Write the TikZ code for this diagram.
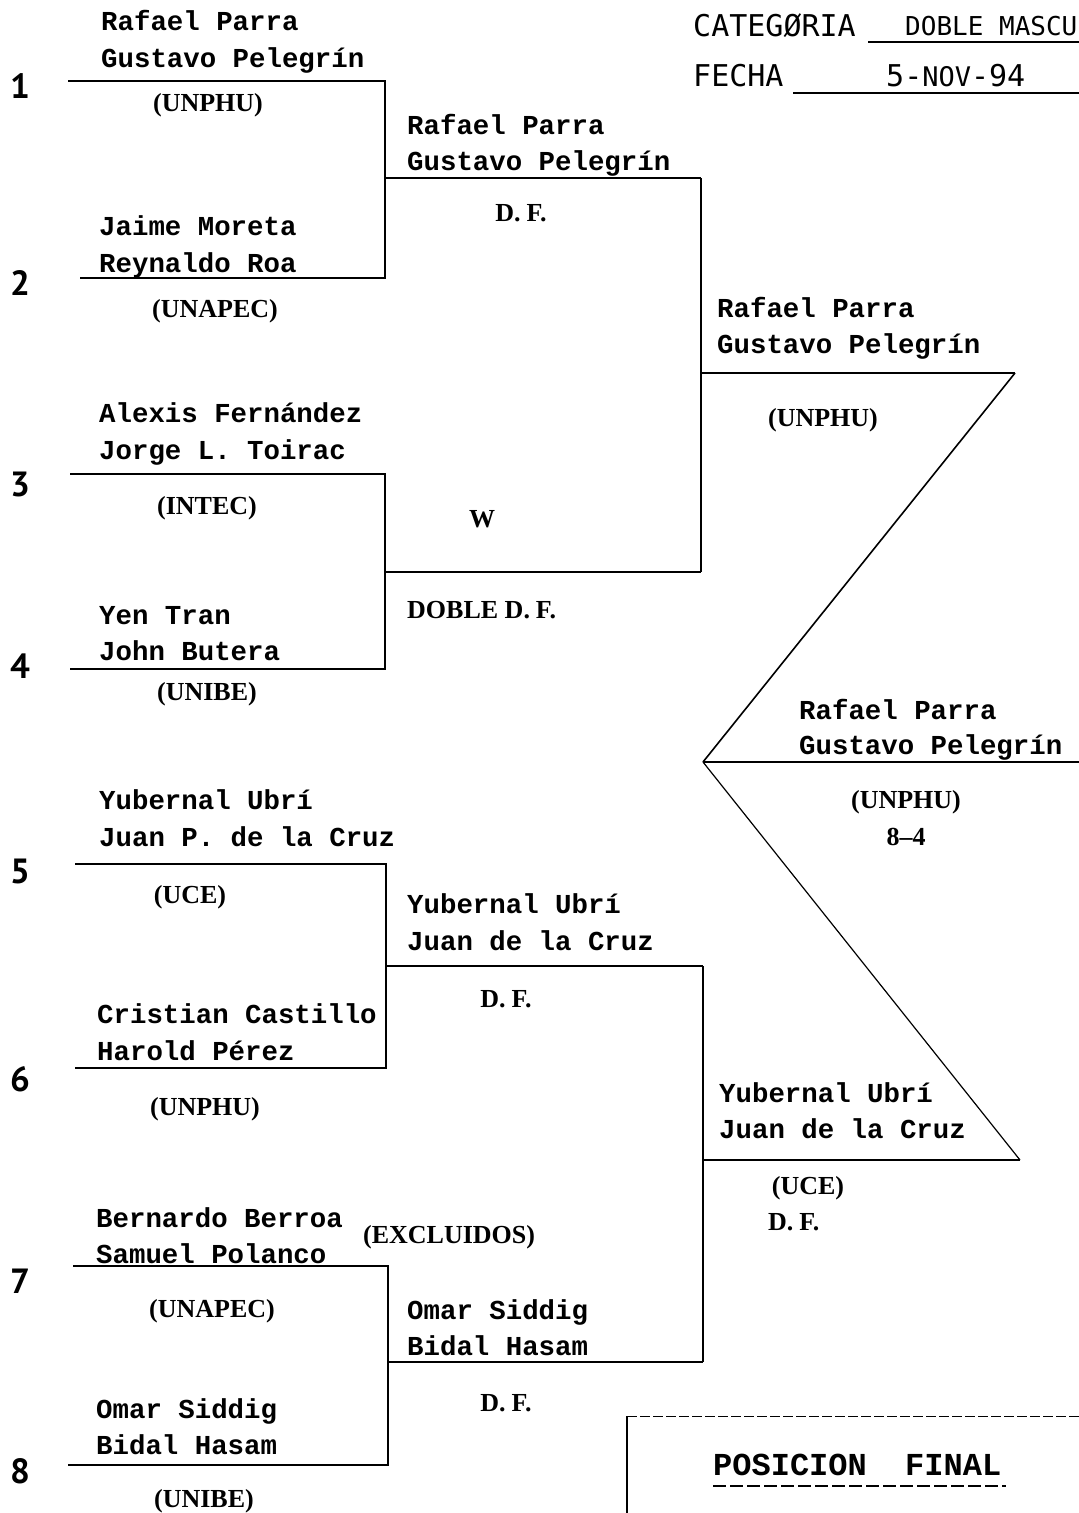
\documentclass[tikz,border=0pt]{standalone}
\usepackage{fontspec}
\setmainfont{Liberation Serif}
\newfontfamily\namefont{Liberation Mono Bold}
\newfontfamily\hdrfont{DejaVu Sans Mono}
\newfontfamily\numfont{PT Sans}
\begin{document}
\begin{tikzpicture}[x=1pt,y=-1pt,
  nm/.style={font=\namefont\fontsize{27.4}{27.4}\selectfont, anchor=base west, inner sep=0pt},
  uni/.style={font=\bfseries\fontsize{26}{26}\selectfont, anchor=base, inner sep=0pt},
  hdr/.style={font=\hdrfont\fontsize{30}{30}\selectfont, anchor=base west, inner sep=0pt},
  num/.style={font=\numfont\bfseries\fontsize{35}{35}\selectfont, anchor=base, inner sep=0pt},
  bk/.style={line width=1.6pt, line join=miter},
  thin/.style={line width=1.2pt}]
\useasboundingbox[fill=white] (0,0) rectangle (1079,1513);
% ---------- header
\node[hdr] (cat) at (693,36) {CATEGØRIA};
\node[hdr,font=\hdrfont\fontsize{26}{26}\selectfont] (catv) at (905,35) {DOBLE MASCU};
\node[hdr] (fec) at (693,86) {FECHA};
\node[hdr] (fecv) at (886,86) {5-{\fontsize{27}{27}\selectfont NOV}-94};
\coordinate (cu1) at (868,42); \coordinate (cu2) at (1079,42);
\coordinate (fu1) at (793,93); \coordinate (fu2) at (1079,93);
\draw[thin] (cu1) -- (cu2);
\draw[thin] (fu1) -- (fu2);
% ---------- seed numbers
\node[num] (k1) at (20,98) {1};
\node[num] (k2) at (20,295) {2};
\node[num] (k3) at (20,496) {3};
\node[num] (k4) at (20,678) {4};
\node[num] (k5) at (20,883) {5};
\node[num] (k6) at (20,1091) {6};
\node[num] (k7) at (20,1293) {7};
\node[num] (k8) at (20,1483) {8};
% ---------- coordinates of bracket lines
\coordinate (a1) at (68,81);   \coordinate (b1) at (385,81);
\coordinate (a2) at (80,278);  \coordinate (b2) at (385,278);
\coordinate (m12) at (385,178); \coordinate (e12) at (701,178);
\coordinate (a3) at (70,474);  \coordinate (b3) at (385,474);
\coordinate (a4) at (70,669);  \coordinate (b4) at (385,669);
\coordinate (m34) at (385,572); \coordinate (e34) at (701,572);
\coordinate (s1) at (701,373); \coordinate (t1) at (1015,373);
\coordinate (a5) at (75,864);  \coordinate (b5) at (386,864);
\coordinate (a6) at (75,1068); \coordinate (b6) at (386,1068);
\coordinate (m56) at (386,966); \coordinate (e56) at (703,966);
\coordinate (a7) at (73,1266); \coordinate (b7) at (388,1266);
\coordinate (a8) at (68,1465); \coordinate (b8) at (388,1465);
\coordinate (m78) at (388,1362); \coordinate (e78) at (703,1362);
\coordinate (s2) at (703,1160); \coordinate (t2) at (1020,1160);
\coordinate (apex) at (703,762); \coordinate (fend) at (1079,762);
% ---------- bracket lines
\draw[bk] (a1) -- (b1) -- (b2) -- (a2);
\draw[bk] (m12) -- (e12);
\draw[bk] (a3) -- (b3) -- (b4) -- (a4);
\draw[bk] (m34) -- (e34);
\draw[bk] (e12) -- (e34);
\draw[bk] (s1) -- (t1);
\draw[bk] (a5) -- (b5) -- (b6) -- (a6);
\draw[bk] (m56) -- (e56);
\draw[bk] (a7) -- (b7) -- (b8) -- (a8);
\draw[bk] (m78) -- (e78);
\draw[bk] (e56) -- (e78);
\draw[bk] (s2) -- (t2);
\draw[bk] (t1) -- (apex);
\draw[thin] (apex) -- (t2);
\draw[bk] (apex) -- (fend);
% ---------- round 1 texts
\node[nm] (n1a) at (101,30) {Rafael Parra};
\node[nm] (n1b) at (101,67) {Gustavo Pelegrín};
\node[uni] (u1) at (208,111) {(UNPHU)};
\node[nm] (n2a) at (99,235) {Jaime Moreta};
\node[nm] (n2b) at (99,272) {Reynaldo Roa};
\node[uni] (u2) at (215,317) {(UNAPEC)};
\node[nm] (n3a) at (99,422) {Alexis Fernández};
\node[nm] (n3b) at (99,459) {Jorge L. Toirac};
\node[uni] (u3) at (207,514) {(INTEC)};
\node[nm] (n4a) at (99,624) {Yen Tran};
\node[nm] (n4b) at (99,660) {John Butera};
\node[uni] (u4) at (207,700) {(UNIBE)};
\node[nm] (n5a) at (99,809) {Yubernal Ubrí};
\node[nm] (n5b) at (99,846) {Juan P. de la Cruz};
\node[uni] (u5) at (190,903) {(UCE)};
\node[nm] (n6a) at (97,1023) {Cristian Castillo};
\node[nm] (n6b) at (97,1060) {Harold Pérez};
\node[uni] (u6) at (205,1115) {(UNPHU)};
\node[nm] (n7a) at (96,1227) {Bernardo Berroa};
\node[nm] (n7b) at (96,1263) {Samuel Polanco};
\node[uni] (u7) at (212,1317) {(UNAPEC)};
\node[nm] (n8a) at (96,1418) {Omar Siddig};
\node[nm] (n8b) at (96,1454) {Bidal Hasam};
\node[uni] (u8) at (204,1507) {(UNIBE)};
% ---------- round 2 texts
\node[nm] (r2a) at (407,134) {Rafael Parra};
\node[nm] (r2b) at (407,170) {Gustavo Pelegrín};
\node[uni] (df1) at (521,221) {D.\hspace{6pt}F.};
\node[uni] (w) at (482,527) {W};
\node[uni,anchor=base west] (dd) at (407,618) {DOBLE D.\hspace{6pt}F.};
\node[nm] (r2c) at (407,913) {Yubernal Ubrí};
\node[nm] (r2d) at (407,950) {Juan de la Cruz};
\node[uni] (df2) at (506,1007) {D.\hspace{6pt}F.};
\node[uni,anchor=base west] (ex) at (363,1243) {(EXCLUIDOS)};
\node[nm] (r2e) at (407,1319) {Omar Siddig};
\node[nm] (r2f) at (407,1355) {Bidal Hasam};
\node[uni] (df4) at (506,1411) {D.\hspace{6pt}F.};
% ---------- round 3 texts
\node[nm] (r3a) at (717,317) {Rafael Parra};
\node[nm] (r3b) at (717,353) {Gustavo Pelegrín};
\node[uni] (u9) at (823,426) {(UNPHU)};
\node[nm] (r3c) at (719,1102) {Yubernal Ubrí};
\node[nm] (r3d) at (719,1138) {Juan de la Cruz};
\node[uni] (u10) at (808,1194) {(UCE)};
\node[uni,anchor=base west] (df3) at (768,1230) {D.\hspace{6pt}F.};
% ---------- final
\node[nm] (fa) at (799,719) {Rafael Parra};
\node[nm] (fb) at (799,754) {Gustavo Pelegrín};
\node[uni] (fu) at (906,808) {(UNPHU)};
\node[uni] (fs) at (906,845) {8–4};
% ---------- final position box
\coordinate (p1) at (627,1416); \coordinate (p2) at (1079,1416); \coordinate (p3) at (627,1513);
\draw[line width=1pt, dash pattern=on 10pt off 3pt] (p1) -- (p2);
\draw[bk] (p1) -- (p3);
\node[font=\namefont\fontsize{32}{32}\selectfont, anchor=base west, inner sep=0pt] (pf) at (713,1475) {POSICION\ \ FINAL};
\coordinate (pu1) at (713,1486); \coordinate (pu2) at (1006,1486);
\draw[line width=2.4pt, dash pattern=on 13pt off 4pt] (pu1) -- (pu2);
\end{tikzpicture}
\end{document}
